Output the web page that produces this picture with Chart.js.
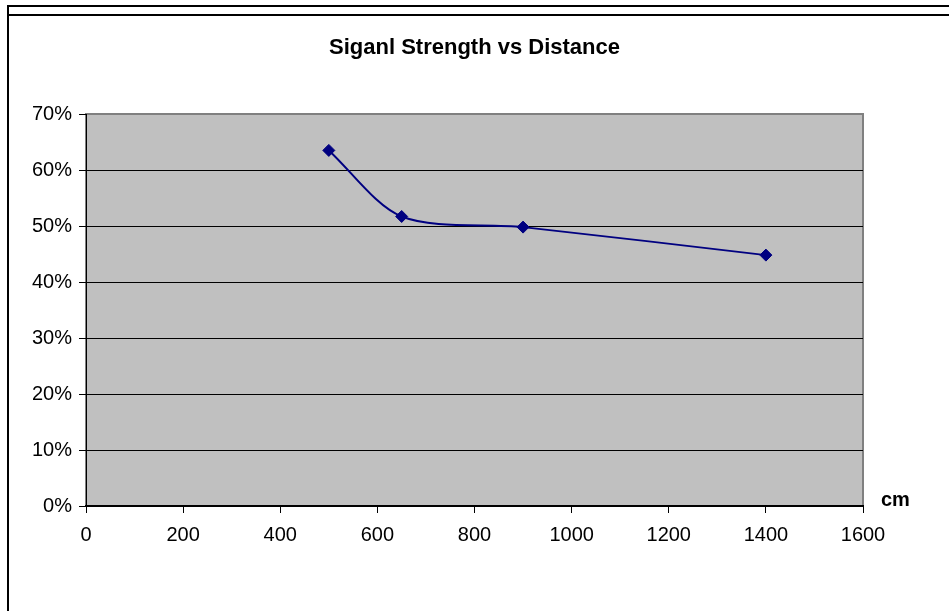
<!DOCTYPE html>
<html>
<head>
<meta charset="utf-8">
<title>Siganl Strength vs Distance</title>
<script src="https://cdn.jsdelivr.net/npm/chart.js@4"></script>
<style>
  html, body { margin: 0; padding: 0; background: #fff; }
  #wrap { position: relative; width: 949px; height: 611px; }
</style>
</head>
<body>
<div id="wrap"><canvas id="chart" width="949" height="611"></canvas></div>
<script>
/* ── Data ── */
const distances = [500, 650, 900, 1400];          // cm
const strength  = [63.5, 51.7, 49.8, 44.8];       // %
const xTicks    = [0, 200, 400, 600, 800, 1000, 1200, 1400, 1600];
const yTicks    = [0, 10, 20, 30, 40, 50, 60, 70];

const FONT = "'Liberation Sans', Arial, sans-serif";
Chart.defaults.font.family = FONT;
Chart.defaults.color = '#000';

/* ── Excel-ish frame + grey plot area ── */
const frame = {
  id: 'frame',
  beforeDraw(chart) {
    const c = chart.ctx;
    const a = chart.chartArea;
    c.save();
    // outer chart border (top + left visible)
    c.strokeStyle = '#000';
    c.lineWidth = 2;
    c.beginPath();
    c.moveTo(8, 611); c.lineTo(8, 6); c.lineTo(949, 6);
    c.moveTo(8, 15); c.lineTo(949, 15);
    c.stroke();
    // plot area
    c.fillStyle = '#c0c0c0';
    c.fillRect(a.left, a.top, a.right - a.left, a.bottom - a.top);
    c.strokeStyle = '#808080';
    c.lineWidth = 2;
    c.strokeRect(a.left, a.top, a.right - a.left, a.bottom - a.top);
    c.restore();
  },
  afterDraw(chart) {
    const c = chart.ctx;
    c.save();
    c.fillStyle = '#000';
    c.font = 'bold 20px ' + FONT;
    c.textAlign = 'left';
    c.textBaseline = 'middle';
    c.fillText('cm', 881, 500);
    c.restore();
  }
};

new Chart(document.getElementById('chart'), {
  type: 'line',
  data: {
    datasets: [{
      label: 'Signal',
      data: distances.map((d, i) => ({ x: d, y: strength[i] })),
      borderColor: '#000080',
      borderWidth: 2,
      tension: 0.3,
      pointStyle: 'rectRot',
      pointRadius: 6,
      pointBackgroundColor: '#000080',
      pointBorderColor: '#000080',
      pointBorderWidth: 1
    }]
  },
  options: {
    responsive: false,
    animation: false,
    layout: { padding: { left: 10, right: 10, top: 0, bottom: 0 } },
    plugins: {
      legend: { display: false },
      tooltip: { enabled: false },
      title: {
        display: true,
        text: 'Siganl Strength vs Distance',
        color: '#000',
        font: { size: 22, weight: 'bold', lineHeight: 1.2 },
        padding: { top: 35, bottom: 52.6 }
      }
    },
    scales: {
      x: {
        type: 'linear',
        min: 0, max: 1600,
        afterBuildTicks: s => { s.ticks = xTicks.map(v => ({ value: v })); },
        afterFit: s => { s.height = 105; },
        ticks: { font: { size: 20 }, color: '#000', padding: 10, maxRotation: 0, callback: v => String(v) },
        grid: { drawOnChartArea: false, drawTicks: true, tickLength: 7, color: '#000' },
        border: { color: '#000', width: 2 }
      },
      y: {
        min: 0, max: 70,
        afterBuildTicks: s => { s.ticks = yTicks.map(v => ({ value: v })); },
        afterFit: s => { s.width = 76; },
        ticks: { font: { size: 20 }, color: '#000', padding: 7, callback: v => v + '%' },
        grid: {
          drawOnChartArea: true,
          tickLength: 7,
          tickColor: '#000',
          color: c => (c.tick && c.tick.value === 70) ? 'rgba(0,0,0,0)' : '#000',
          lineWidth: 1
        },
        border: { color: '#000', width: 1 }
      },
      // empty right-hand box so the plot area ends where Excel put it
      spacer: {
        type: 'linear',
        position: 'right',
        afterFit: s => { s.width = 76; },
        ticks: { display: false },
        grid: { display: false, drawTicks: false },
        border: { display: false }
      }
    }
  },
  plugins: [frame]
});
</script>
</body>
</html>
